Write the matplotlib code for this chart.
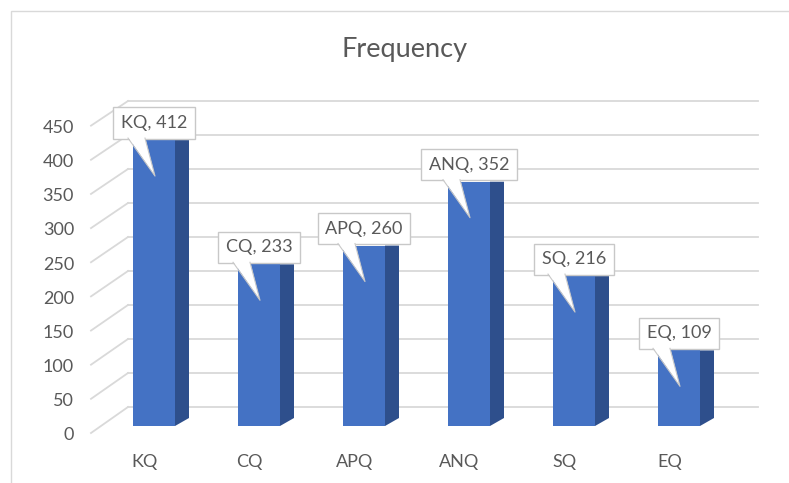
import matplotlib.pyplot as plt
from matplotlib.patches import Polygon, Rectangle

# chart data
categories = ["KQ", "CQ", "APQ", "ANQ", "SQ", "EQ"]
frequency = [412, 233, 260, 352, 216, 109]
ticks = [0, 50, 100, 150, 200, 250, 300, 350, 400, 450]
title = "Frequency"

W, H = 789, 483
FONT = "Lato"
GREY_TXT = "#595959"
GRID = "#D9D9D9"
FRONT = "#4472C4"
SIDE = "#2E4F8C"

# pixel layout of the (fake 3d) plot: bar floor at y=426, 0.694 px per unit
X0, DX = 154, 105
Y0, SY = 426, 0.694


def px_x(px):
    return (px - X0) / DX


def px_y(py):
    return (Y0 - py) / SY


fig = plt.figure(figsize=(W / 100, H / 100), dpi=100)
ax = fig.add_axes([0, 0, 1, 1])
ax.set_xlim(px_x(0), px_x(W))
ax.set_ylim(px_y(H), px_y(0))
ax.axis("off")

# outer frame of the chart area
fig.patches.append(Rectangle((11 / W, -0.01), 1.2, (H - 11) / H + 0.01,
                             transform=fig.transFigure, fill=False,
                             edgecolor="#D9D9D9", lw=1))

# back wall gridlines + diagonal side lines + tick labels
for v in ticks:
    yb = px_y(407 - 0.68 * v)
    yf = px_y(433 - 0.683 * v)
    ax.plot([px_x(128), px_x(758)], [yb, yb], color=GRID, lw=1.3, zorder=1)
    ax.plot([px_x(91), px_x(128)], [yf, yb], color=GRID, lw=1.3, zorder=1)
    ax.text(px_x(74), px_y(435 - 0.682 * v), str(v), ha="right", va="center",
            fontsize=13, color=GREY_TXT, family=FONT)

bw = 42 / DX
sw = 14 / DX
sdy = 8 / SY
for i, (c, f) in enumerate(zip(categories, frequency)):
    ax.bar(i, f, width=bw, color=FRONT, zorder=3)
    xr = i + bw / 2
    ax.add_patch(Polygon([(xr, 0), (xr + sw, sdy), (xr + sw, f), (xr, f)],
                         closed=True, facecolor=SIDE, edgecolor="none", zorder=3))
    ax.text(i - 0.09, px_y(462), c, ha="center", va="center",
            fontsize=13, color=GREY_TXT, family=FONT)

    # callout label
    top_px = Y0 - f * SY
    box_bottom = top_px - 2
    cx = X0 + DX * i
    ax.text(i, px_y(box_bottom - 15), f"{c}, {f}", ha="center", va="center",
            fontsize=13, color=GREY_TXT, family=FONT, zorder=5,
            bbox=dict(boxstyle="square,pad=0.42", facecolor="white",
                      edgecolor="#C8C8C8", lw=1))
    tip = (px_x(cx + 1), px_y(box_bottom + 38))
    b1 = (px_x(cx - 26), px_y(box_bottom - 1))
    b2 = (px_x(cx - 9), px_y(box_bottom - 1))
    ax.add_patch(Polygon([b1, tip, b2], closed=True, facecolor="white",
                         edgecolor="none", zorder=6))
    ax.plot([b1[0], tip[0], b2[0]], [px_y(box_bottom), tip[1], px_y(box_bottom)],
            color="#C8C8C8", lw=0.8, zorder=6)

ax.text(px_x(405), px_y(50), title, ha="center", va="center",
        fontsize=19.5, color=GREY_TXT, family=FONT)

fig.savefig("out.png", dpi=100)
